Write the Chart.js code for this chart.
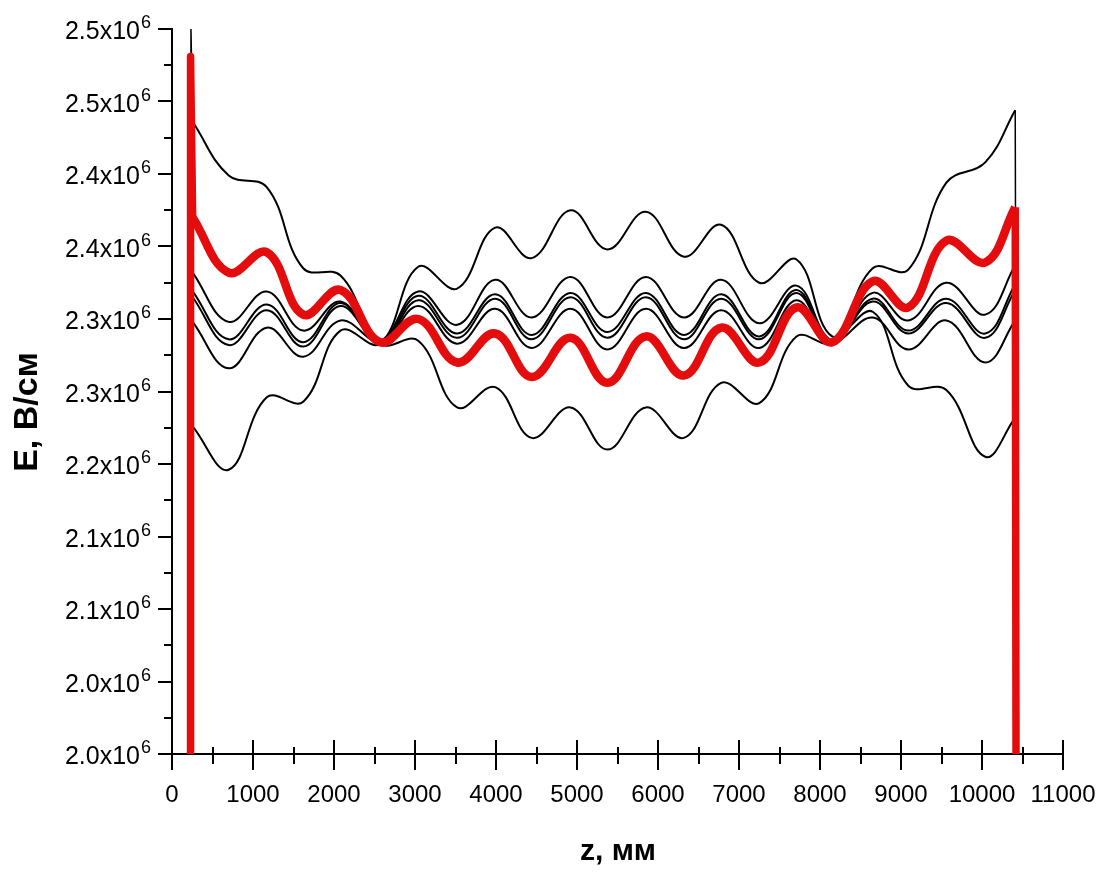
<!DOCTYPE html>
<html>
<head>
<meta charset="utf-8">
<script src="https://cdn.jsdelivr.net/npm/chart.js@4.4.0/dist/chart.umd.min.js"></script>
<style>
  body { margin: 0; background: #fff; }
</style>
</head>
<body>
<canvas id="fieldChart" width="1113" height="872"></canvas>
<script>
// z positions (mm) where the curves were read
const zPos = [255, 700, 1170, 1620, 2080, 2570, 3040, 3520, 3990, 4440, 4920, 5375,
  5850, 6320, 6780, 7250, 7710, 8150, 8650, 9090, 9560, 10040, 10410];

// E values, in units of 10^6 V/cm
const redCurve = [2.370, 2.332, 2.346, 2.303, 2.320, 2.284, 2.300, 2.270, 2.290, 2.260, 2.287, 2.256,
  2.288, 2.261, 2.294, 2.270, 2.308, 2.284, 2.326, 2.308, 2.354, 2.339, 2.377];
const curveA = [2.436, 2.399, 2.391, 2.335, 2.330, 2.283, 2.285, 2.239, 2.253, 2.218, 2.239, 2.210,
  2.239, 2.218, 2.256, 2.242, 2.288, 2.284, 2.335, 2.334, 2.394, 2.408, 2.444];
const curveB = [2.332, 2.298, 2.319, 2.292, 2.312, 2.283, 2.309, 2.283, 2.307, 2.280, 2.307, 2.279,
  2.307, 2.280, 2.306, 2.280, 2.313, 2.283, 2.318, 2.299, 2.325, 2.303, 2.337];
const curveC = [2.319, 2.286, 2.310, 2.284, 2.311, 2.283, 2.313, 2.287, 2.314, 2.286, 2.315, 2.287,
  2.315, 2.286, 2.314, 2.286, 2.318, 2.283, 2.314, 2.292, 2.314, 2.290, 2.324];
const curveD = [2.315, 2.282, 2.306, 2.281, 2.309, 2.284, 2.316, 2.290, 2.317, 2.289, 2.318, 2.291,
  2.318, 2.289, 2.317, 2.288, 2.320, 2.284, 2.312, 2.290, 2.311, 2.287, 2.320];
const curveE = [2.298, 2.266, 2.294, 2.274, 2.299, 2.285, 2.319, 2.296, 2.327, 2.301, 2.329, 2.301,
  2.329, 2.301, 2.327, 2.297, 2.323, 2.285, 2.301, 2.279, 2.299, 2.270, 2.299];
const curveF = [2.226, 2.196, 2.246, 2.243, 2.292, 2.283, 2.336, 2.321, 2.363, 2.342, 2.375, 2.348,
  2.374, 2.343, 2.365, 2.325, 2.341, 2.288, 2.305, 2.254, 2.251, 2.205, 2.232];

// the vertical edges of the curves (field rises from zero at the ends)
const blackEdges = [232, 10432];
const redEdges = [227, 10420];
const spikeA = [234, 2.5];
const spikeRed = [229, 2.481];

// axes
const yMin = 2.0, yMax = 2.5;
const xMin = 0, xMax = 11000;
const xTicks = [0, 1000, 2000, 3000, 4000, 5000, 6000, 7000, 8000, 9000, 10000, 11000];
const xMinorTicks = [500, 1500, 2500, 3500, 4500, 5500, 6500, 7500, 8500, 9500, 10500];
const yTicks = [2.00, 2.05, 2.10, 2.15, 2.20, 2.25, 2.30, 2.35, 2.40, 2.45, 2.50];
const yMinorTicks = [2.025, 2.075, 2.125, 2.175, 2.225, 2.275, 2.325, 2.375, 2.425, 2.475];
const yTickLabels = ['2.0', '2.0', '2.1', '2.1', '2.2', '2.3', '2.3', '2.4', '2.4', '2.5', '2.5'];
const yTitle = 'E, В/см';
const xTitle = 'z, мм';

const redColor = 'rgb(228, 12, 12)';

function curvePoints(values) {
  let pts = [];
  for (let i = 0; i < zPos.length; i++) {
    pts.push({ x: zPos[i], y: values[i] });
  }
  return pts;
}

// straight verticals at both ends, split by a gap
function edgePoints(values, edges, spike) {
  let pts = [{ x: edges[0], y: yMin }];
  if (spike) {
    pts.push({ x: spike[0], y: spike[1] });
  }
  pts.push({ x: zPos[0], y: values[0] });
  pts.push({ x: 5000, y: null });
  pts.push({ x: zPos[zPos.length - 1], y: values[values.length - 1] });
  pts.push({ x: edges[1], y: yMin });
  return pts;
}

function lineSet(data, color, width, tension) {
  return {
    data: data,
    borderColor: color,
    borderWidth: width,
    pointRadius: 0,
    fill: false,
    tension: tension,
    spanGaps: false,
    borderJoinStyle: 'round'
  };
}

const blackCurves = [curveA, curveB, curveC, curveD, curveE, curveF];

let datasets = [
  lineSet(curvePoints(redCurve), redColor, 8.5, 0.4),
  lineSet(edgePoints(redCurve, redEdges, spikeRed), redColor, 7.5, 0)
];
for (let i = 0; i < blackCurves.length; i++) {
  datasets.push(lineSet(curvePoints(blackCurves[i]), '#000', 2, 0.4));
}
for (let i = 0; i < blackCurves.length; i++) {
  let spike = (i == 0) ? spikeA : null;
  datasets.push(lineSet(edgePoints(blackCurves[i], blackEdges, spike), '#000', 1.5, 0));
}

const font = '"Liberation Sans", Arial, sans-serif';

// tick marks, tick labels and axis titles
const axisDecor = {
  id: 'axisDecor',
  afterDraw(chart) {
    const ctx = chart.ctx;
    const xs = chart.scales.x;
    const ys = chart.scales.y;
    const x0 = xs.left;
    const y0 = ys.bottom;

    ctx.save();
    ctx.strokeStyle = '#000';
    ctx.lineWidth = 2;
    ctx.beginPath();
    for (let v of xMinorTicks) {
      let px = Math.round(xs.getPixelForValue(v));
      ctx.moveTo(px, y0 - 7);
      ctx.lineTo(px, y0 + 10);
    }
    for (let v of xTicks) {
      let px = Math.round(xs.getPixelForValue(v));
      ctx.moveTo(px, y0 - 14);
      ctx.lineTo(px, y0 + 16);
    }
    for (let v of yMinorTicks) {
      let py = Math.round(ys.getPixelForValue(v));
      ctx.moveTo(x0 - 8, py);
      ctx.lineTo(x0, py);
    }
    for (let v of yTicks) {
      let py = Math.round(ys.getPixelForValue(v));
      ctx.moveTo(x0 - 14, py);
      ctx.lineTo(x0, py);
    }
    ctx.stroke();

    ctx.fillStyle = '#000';
    ctx.font = '24px ' + font;
    ctx.textAlign = 'center';
    ctx.textBaseline = 'alphabetic';
    for (let v of xTicks) {
      ctx.fillText(String(v), xs.getPixelForValue(v), y0 + 48);
    }

    for (let i = 0; i < yTicks.length; i++) {
      let py = ys.getPixelForValue(yTicks[i]);
      ctx.font = '25px ' + font;
      ctx.textAlign = 'right';
      ctx.fillText(yTickLabels[i] + 'x10', x0 - 32, py + 10);
      ctx.font = '18px ' + font;
      ctx.textAlign = 'left';
      ctx.fillText('6', x0 - 31, py - 1);
    }

    ctx.font = 'bold 30px ' + font;
    ctx.textAlign = 'center';
    ctx.fillText(xTitle, 618, 860);

    ctx.translate(28, 412);
    ctx.rotate(-Math.PI / 2);
    ctx.font = 'bold 34px ' + font;
    ctx.textBaseline = 'middle';
    ctx.fillText(yTitle, 0, 0);
    ctx.restore();
  }
};

new Chart(document.getElementById('fieldChart'), {
  type: 'line',
  data: { datasets: datasets },
  options: {
    responsive: false,
    animation: false,
    layout: {
      padding: { left: 172, right: 50, top: 29, bottom: 118 }
    },
    plugins: {
      legend: { display: false },
      tooltip: { enabled: false }
    },
    scales: {
      x: {
        type: 'linear',
        min: xMin,
        max: xMax,
        ticks: { display: false },
        grid: { display: false },
        border: { display: true, color: '#000', width: 2 },
        afterFit: function(scale) { scale.height = 0; }
      },
      y: {
        type: 'linear',
        min: yMin,
        max: yMax,
        ticks: { display: false },
        grid: { display: false },
        border: { display: true, color: '#000', width: 2 },
        afterFit: function(scale) { scale.width = 0; }
      }
    }
  },
  plugins: [axisDecor]
});
</script>
</body>
</html>
